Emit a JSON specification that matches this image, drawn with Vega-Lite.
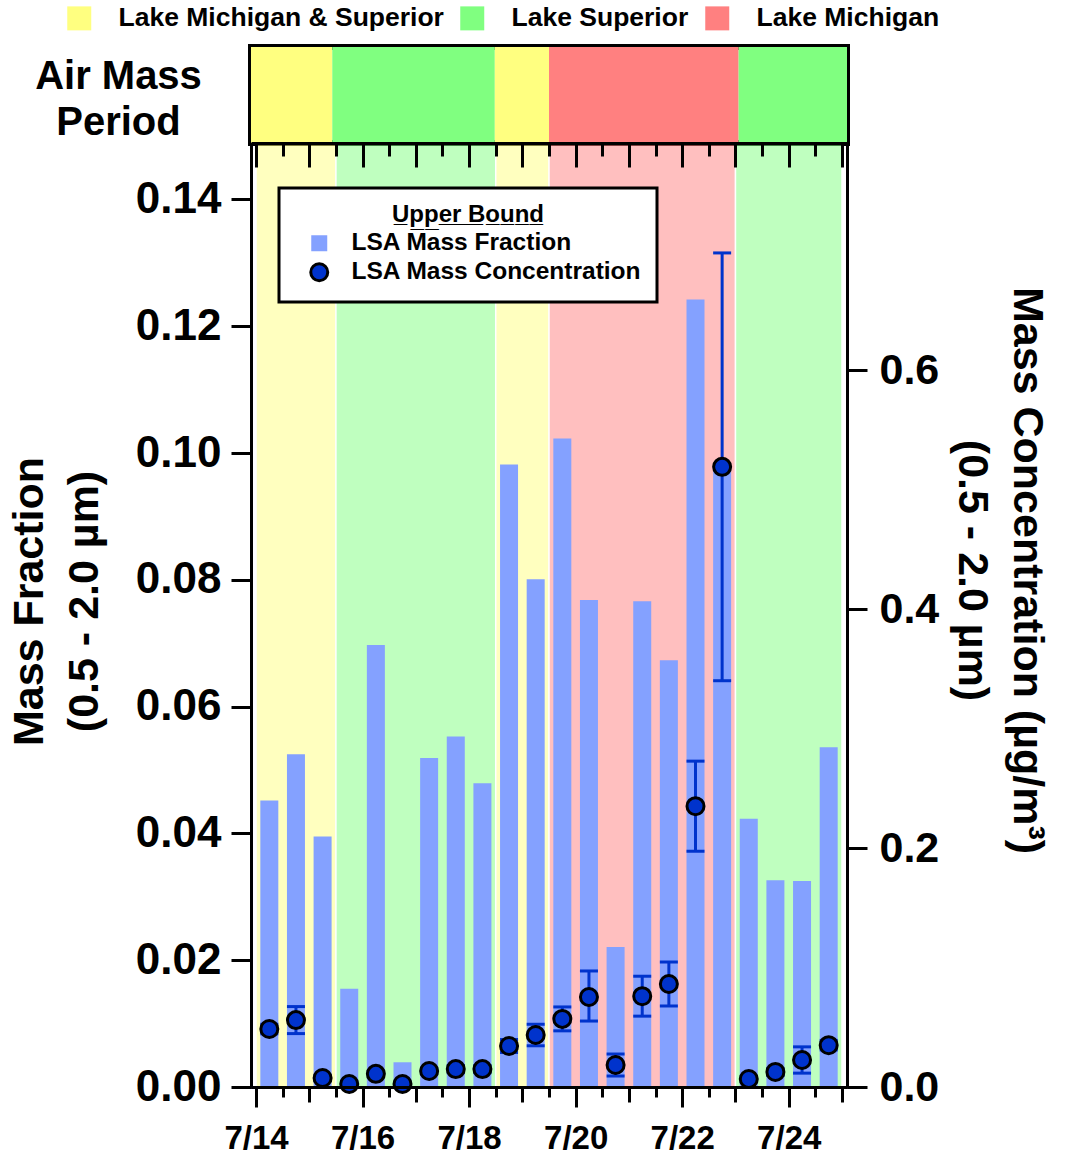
{
  "$schema": "https://vega.github.io/schema/vega-lite/v6.json",
  "padding": {"left": 8, "top": 2, "right": 5, "bottom": 5},
  "background": "white",
  "datasets": {
    "periods": [
      {"start": "2016-07-14 00:00", "end": "2016-07-15 12:00", "period": "Lake Michigan & Superior"},
      {"start": "2016-07-15 12:00", "end": "2016-07-18 12:00", "period": "Lake Superior"},
      {"start": "2016-07-18 12:00", "end": "2016-07-19 12:00", "period": "Lake Michigan & Superior"},
      {"start": "2016-07-19 12:00", "end": "2016-07-23 00:00", "period": "Lake Michigan"},
      {"start": "2016-07-23 00:00", "end": "2016-07-25 00:00", "period": "Lake Superior"}
    ],
    "samples": [
      {"t": "2016-07-14 06:00", "frac": 0.0452, "conc": 0.0485, "lo": 0.0445, "hi": 0.0525},
      {"t": "2016-07-14 18:00", "frac": 0.0525, "conc": 0.056, "lo": 0.0447, "hi": 0.0673},
      {"t": "2016-07-15 06:00", "frac": 0.0395, "conc": 0.0075, "lo": 0.0055, "hi": 0.0095},
      {"t": "2016-07-15 18:00", "frac": 0.0155, "conc": 0.0025, "lo": 0.0015, "hi": 0.0035},
      {"t": "2016-07-16 06:00", "frac": 0.0697, "conc": 0.011, "lo": 0.009, "hi": 0.013},
      {"t": "2016-07-16 18:00", "frac": 0.0039, "conc": 0.0025, "lo": 0.0015, "hi": 0.0035},
      {"t": "2016-07-17 06:00", "frac": 0.0519, "conc": 0.0134, "lo": 0.0114, "hi": 0.0154},
      {"t": "2016-07-17 18:00", "frac": 0.0553, "conc": 0.015, "lo": 0.012, "hi": 0.018},
      {"t": "2016-07-18 06:00", "frac": 0.0479, "conc": 0.015, "lo": 0.012, "hi": 0.018},
      {"t": "2016-07-18 18:00", "frac": 0.0982, "conc": 0.0343, "lo": 0.0288, "hi": 0.0398},
      {"t": "2016-07-19 06:00", "frac": 0.0801, "conc": 0.0435, "lo": 0.0345, "hi": 0.0525},
      {"t": "2016-07-19 18:00", "frac": 0.1023, "conc": 0.057, "lo": 0.047, "hi": 0.067},
      {"t": "2016-07-20 06:00", "frac": 0.0768, "conc": 0.0753, "lo": 0.0552, "hi": 0.0971},
      {"t": "2016-07-20 18:00", "frac": 0.0221, "conc": 0.0184, "lo": 0.0092, "hi": 0.0276},
      {"t": "2016-07-21 06:00", "frac": 0.0766, "conc": 0.076, "lo": 0.0593, "hi": 0.0927},
      {"t": "2016-07-21 18:00", "frac": 0.0673, "conc": 0.0862, "lo": 0.0678, "hi": 0.1046},
      {"t": "2016-07-22 06:00", "frac": 0.1242, "conc": 0.235, "lo": 0.1973, "hi": 0.2727},
      {"t": "2016-07-22 18:00", "frac": 0.0973, "conc": 0.519, "lo": 0.34, "hi": 0.698},
      {"t": "2016-07-23 06:00", "frac": 0.0423, "conc": 0.0067, "lo": 0.0047, "hi": 0.0087},
      {"t": "2016-07-23 18:00", "frac": 0.0326, "conc": 0.0126, "lo": 0.0096, "hi": 0.0156},
      {"t": "2016-07-24 06:00", "frac": 0.0325, "conc": 0.0226, "lo": 0.0116, "hi": 0.0336},
      {"t": "2016-07-24 18:00", "frac": 0.0536, "conc": 0.035, "lo": 0.031, "hi": 0.039}
    ]
  },
  "spacing": 0,
  "bounds": "flush",
  "resolve": {"legend": {"color": "independent", "fill": "independent"}},
  "vconcat": [
    {
      "width": 596,
      "height": 96,
      "view": {"stroke": "black", "strokeWidth": 6},
      "data": {"name": "periods"},
      "mark": {"type": "rect"},
      "encoding": {
        "x": {"field": "start", "type": "temporal", "scale": {"domain": [{"year": 2016, "month": 7, "date": 14}, {"year": 2016, "month": 7, "date": 25}]}, "axis": null},
        "x2": {"field": "end"},
        "y": {"datum": "Air Mass Period", "type": "nominal", "scale": {"paddingInner": 0, "paddingOuter": 0},
          "axis": {"title": ["Air Mass", "Period"], "titleAngle": 0, "titleAlign": "center", "titleBaseline": "middle", "titleX": -133, "titleY": 29, "titleFontSize": 40, "titleLineHeight": 46, "labels": false, "ticks": false, "domain": false, "zindex": 1}},
        "color": {"field": "period", "type": "nominal",
          "scale": {"domain": ["Lake Michigan & Superior", "Lake Superior", "Lake Michigan"], "range": ["#FFFF80", "#80FF80", "#FF8080"]},
          "legend": {"orient": "none", "legendX": -185, "legendY": -42, "direction": "horizontal", "title": null, "symbolType": "square", "symbolSize": 576, "symbolStrokeWidth": 0, "symbolOpacity": 1, "labelFontSize": 26.5, "labelOffset": 26, "columnPadding": 15, "padding": 0}}
      }
    },
    {
      "width": 596,
      "height": 944,
      "layer": [
        {
          "data": {"name": "periods"},
          "mark": {"type": "rect", "opacity": 0.5, "stroke": "white", "strokeWidth": 1.5, "strokeOpacity": 1},
          "encoding": {
            "x": {"field": "start", "type": "temporal", "scale": {"domain": [{"year": 2016, "month": 7, "date": 14}, {"year": 2016, "month": 7, "date": 25}]},
              "axis": {"orient": "bottom", "zindex": 1, "title": null, "format": "%-m/%-d", "tickSize": 20, "labelFontSize": 33, "labelPadding": 15, "labelFlush": false, "labelOverlap": false, "labelBound": false,
                "values": [{"year": 2016, "month": 7, "date": 14}, {"year": 2016, "month": 7, "date": 16}, {"year": 2016, "month": 7, "date": 18}, {"year": 2016, "month": 7, "date": 20}, {"year": 2016, "month": 7, "date": 22}, {"year": 2016, "month": 7, "date": 24}]}},
            "x2": {"field": "end"},
            "color": {"field": "period", "type": "nominal", "scale": {"domain": ["Lake Michigan & Superior", "Lake Superior", "Lake Michigan"], "range": ["#FFFF80", "#80FF80", "#FF8080"]}, "legend": null}
          }
        },
        {
          "data": {"name": "samples"},
          "mark": {"type": "bar", "width": 18},
          "encoding": {
            "x": {"field": "t", "type": "temporal",
              "axis": {"orient": "bottom", "zindex": 1, "title": null, "labels": false, "tickSize": 15,
                "values": [{"year": 2016, "month": 7, "date": 15}, {"year": 2016, "month": 7, "date": 17}, {"year": 2016, "month": 7, "date": 19}, {"year": 2016, "month": 7, "date": 21}, {"year": 2016, "month": 7, "date": 23}, {"year": 2016, "month": 7, "date": 25}]}},
            "y": {"field": "frac", "type": "quantitative", "scale": {"domain": [0, 0.1489], "nice": false},
              "axis": {"orient": "left", "zindex": 1, "values": [0, 0.02, 0.04, 0.06, 0.08, 0.1, 0.12, 0.14], "format": ".2f", "tickSize": 20, "labelFontSize": 44, "labelPadding": 10,
                "title": ["Mass Fraction", "(0.5 - 2.0 µm)"], "titleFontSize": 43, "titleLineHeight": 55, "titleAngle": -90, "titleAlign": "center", "titleBaseline": "middle", "titleX": -222, "titleY": 458}},
            "fill": {"datum": "LSA Mass Fraction", "type": "nominal",
              "scale": {"domain": ["LSA Mass Fraction", "LSA Mass Concentration"], "range": ["#84A1FF", "#0033CC"]},
              "legend": {"orient": "none", "legendX": 28, "legendY": 45, "title": "U̲p̲p̲e̲r̲ ̲B̲o̲u̲n̲d̲", "titleFontSize": 24, "titleAnchor": "middle", "titleAlign": "center", "titlePadding": 4,
                "labelFontSize": 24.5, "labelOffset": 20, "symbolOffset": 13, "padding": 15, "rowPadding": 2, "fillColor": "white", "strokeColor": "black", "symbolSize": 289, "symbolOpacity": 1,
                "encoding": {
                  "symbols": {
                    "shape": {"value": {"expr": "datum.value === 'LSA Mass Concentration' ? 'circle' : 'square'"}},
                    "stroke": {"value": {"expr": "datum.value === 'LSA Mass Concentration' ? 'black' : 'transparent'"}},
                    "strokeWidth": {"value": {"expr": "datum.value === 'LSA Mass Concentration' ? 3 : 0"}},
                    "size": {"value": {"expr": "datum.value === 'LSA Mass Concentration' ? 289 : 256"}}
                  },
                  "legend": {"strokeWidth": {"value": 3}}
                }}}
          }
        },
        {
          "data": {"name": "samples"},
          "mark": {"type": "rule", "color": "#0033CC", "strokeWidth": 3},
          "encoding": {
            "x": {"field": "t", "type": "temporal",
              "axis": {"orient": "bottom", "zindex": 1, "title": null, "labels": false, "tickSize": 10,
                "values": [{"year": 2016, "month": 7, "date": 14, "hours": 12}, {"year": 2016, "month": 7, "date": 15, "hours": 12}, {"year": 2016, "month": 7, "date": 16, "hours": 12}, {"year": 2016, "month": 7, "date": 17, "hours": 12}, {"year": 2016, "month": 7, "date": 18, "hours": 12}, {"year": 2016, "month": 7, "date": 19, "hours": 12}, {"year": 2016, "month": 7, "date": 20, "hours": 12}, {"year": 2016, "month": 7, "date": 21, "hours": 12}, {"year": 2016, "month": 7, "date": 22, "hours": 12}, {"year": 2016, "month": 7, "date": 23, "hours": 12}, {"year": 2016, "month": 7, "date": 24, "hours": 12}]}},
            "y": {"field": "lo", "type": "quantitative", "scale": {"domain": [0, 0.79], "nice": false},
              "axis": {"orient": "right", "zindex": 1, "values": [0, 0.2, 0.4, 0.6], "format": ".1f", "tickSize": 20, "labelFontSize": 43, "labelPadding": 12,
                "title": ["Mass Concentration (µg/m³)", "(0.5 - 2.0 µm)"], "titleFontSize": 43, "titleLineHeight": 55, "titleAngle": 90, "titleAlign": "center", "titleBaseline": "middle", "titleX": 179, "titleY": 427}},
            "y2": {"field": "hi"}
          }
        },
        {
          "data": {"name": "samples"},
          "mark": {"type": "tick", "orient": "horizontal", "color": "#0033CC", "size": 18, "thickness": 3, "opacity": 1},
          "encoding": {
            "x": {"field": "t", "type": "temporal",
              "axis": {"orient": "top", "zindex": 1, "title": null, "labels": false, "domain": false, "tickSize": 24, "offset": -24,
                "values": [{"year": 2016, "month": 7, "date": 14}, {"year": 2016, "month": 7, "date": 15}, {"year": 2016, "month": 7, "date": 16}, {"year": 2016, "month": 7, "date": 17}, {"year": 2016, "month": 7, "date": 18}, {"year": 2016, "month": 7, "date": 19}, {"year": 2016, "month": 7, "date": 20}, {"year": 2016, "month": 7, "date": 21}, {"year": 2016, "month": 7, "date": 22}, {"year": 2016, "month": 7, "date": 23}, {"year": 2016, "month": 7, "date": 24}, {"year": 2016, "month": 7, "date": 25}]}},
            "y": {"field": "lo", "type": "quantitative", "scale": {"domain": [0, 0.79], "nice": false}, "axis": null}
          }
        },
        {
          "data": {"name": "samples"},
          "mark": {"type": "tick", "orient": "horizontal", "color": "#0033CC", "size": 18, "thickness": 3, "opacity": 1},
          "encoding": {
            "x": {"field": "t", "type": "temporal",
              "axis": {"orient": "top", "zindex": 1, "title": null, "labels": false, "domain": false, "tickSize": 13, "offset": -13,
                "values": [{"year": 2016, "month": 7, "date": 14, "hours": 12}, {"year": 2016, "month": 7, "date": 15, "hours": 12}, {"year": 2016, "month": 7, "date": 16, "hours": 12}, {"year": 2016, "month": 7, "date": 17, "hours": 12}, {"year": 2016, "month": 7, "date": 18, "hours": 12}, {"year": 2016, "month": 7, "date": 19, "hours": 12}, {"year": 2016, "month": 7, "date": 20, "hours": 12}, {"year": 2016, "month": 7, "date": 21, "hours": 12}, {"year": 2016, "month": 7, "date": 22, "hours": 12}, {"year": 2016, "month": 7, "date": 23, "hours": 12}, {"year": 2016, "month": 7, "date": 24, "hours": 12}]}},
            "y": {"field": "hi", "type": "quantitative", "scale": {"domain": [0, 0.79], "nice": false}, "axis": null}
          }
        },
        {
          "data": {"name": "samples"},
          "mark": {"type": "point", "filled": true, "stroke": "black", "strokeWidth": 3, "size": 289, "opacity": 1},
          "encoding": {
            "x": {"field": "t", "type": "temporal", "axis": {"orient": "top", "zindex": 1, "title": null, "labels": false, "ticks": false, "domain": true}},
            "y": {"field": "conc", "type": "quantitative", "scale": {"domain": [0, 0.79], "nice": false}, "axis": null},
            "fill": {"datum": "LSA Mass Concentration", "type": "nominal",
              "scale": {"domain": ["LSA Mass Fraction", "LSA Mass Concentration"], "range": ["#84A1FF", "#0033CC"]},
              "legend": {"orient": "none", "legendX": 28, "legendY": 45, "title": "U̲p̲p̲e̲r̲ ̲B̲o̲u̲n̲d̲", "titleFontSize": 24, "titleAnchor": "middle", "titleAlign": "center", "titlePadding": 4,
                "labelFontSize": 24.5, "labelOffset": 20, "symbolOffset": 13, "padding": 15, "rowPadding": 2, "fillColor": "white", "strokeColor": "black", "symbolSize": 289, "symbolOpacity": 1,
                "encoding": {
                  "symbols": {
                    "shape": {"value": {"expr": "datum.value === 'LSA Mass Concentration' ? 'circle' : 'square'"}},
                    "stroke": {"value": {"expr": "datum.value === 'LSA Mass Concentration' ? 'black' : 'transparent'"}},
                    "strokeWidth": {"value": {"expr": "datum.value === 'LSA Mass Concentration' ? 3 : 0"}},
                    "size": {"value": {"expr": "datum.value === 'LSA Mass Concentration' ? 289 : 256"}}
                  },
                  "legend": {"strokeWidth": {"value": 3}}
                }}}
          }
        }
      ],
      "resolve": {"scale": {"y": "independent"}, "axis": {"x": "independent"}}
    }
  ],
  "config": {
    "font": "Liberation Sans",
    "view": {"stroke": null},
    "axis": {"grid": false, "domainColor": "black", "domainWidth": 3, "tickColor": "black", "tickWidth": 3, "labelColor": "black", "labelFontWeight": "bold", "titleColor": "black", "titleFontWeight": "bold", "labelFont": "Liberation Sans", "titleFont": "Liberation Sans"},
    "legend": {"labelFont": "Liberation Sans", "titleFont": "Liberation Sans", "labelFontWeight": "bold", "titleFontWeight": "bold", "labelColor": "black", "titleColor": "black", "labelLimit": 500}
  }
}
